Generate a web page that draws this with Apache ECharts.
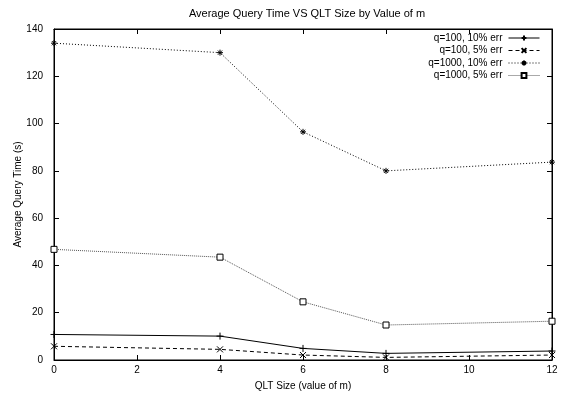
<!DOCTYPE html>
<html><head><meta charset="utf-8">
<script src="https://cdn.jsdelivr.net/npm/echarts@6/dist/echarts.min.js"></script>
<style>html,body{margin:0;padding:0;background:#fff}#c{width:568px;height:394px}</style>
</head><body><div id="c"></div>
<script>
var mValues = [0, 4, 6, 8, 12];
var q100_10 = [10.8, 10.1, 4.9, 2.8, 3.8];
var q100_5 = [5.8, 4.5, 2.1, 1.1, 2.1];
var q1000_10 = [134, 130, 96.5, 80, 83.7];
var q1000_5 = [46.8, 43.5, 24.6, 14.8, 16.4];
var seriesNames = ['q=100, 10% err', 'q=100, 5% err', 'q=1000, 10% err', 'q=1000, 5% err'];
var xTicks = [0, 2, 4, 6, 8, 10, 12];
var yTicks = [0, 20, 40, 60, 80, 100, 120, 140];

function pairs(ys){ return mValues.map(function(x,i){ return [x, ys[i]]; }); }
var font = 'Liberation Sans, Arial, sans-serif';
var chart = echarts.init(document.getElementById('c'), null, {renderer:'canvas'});
var tickStyle = {show:true, inside:true, length:5, lineStyle:{color:'#000', width:1}};
var axLine = {show:true, onZero:false, lineStyle:{color:'#000', width:1}};
var symPlus = 'path://M0,5L10,5M5,0L5,10';
var symCross = 'path://M0,0L10,10M10,0L0,10';
var symStar = 'path://M0,5L10,5M5,0L5,10M1.5,1.5L8.5,8.5M8.5,1.5L1.5,8.5';
function mk(name, ys, sym, size, lineType, lineColor, fill, axisIdx){
  return {
    name:name, type:'line', data:pairs(ys), symbol:sym, symbolSize:size,
    xAxisIndex:axisIdx, yAxisIndex:axisIdx,
    showAllSymbol:true, animation:false,
    lineStyle:{color:lineColor, width:1, type:lineType},
    itemStyle:{color:fill, borderColor:'#000', borderWidth:1}
  };
}
chart.setOption({
  animation:false,
  backgroundColor:'#fff',
  title:{text:'Average Query Time VS QLT Size by Value of m', left:302, textAlign:'center', top:3,
    textStyle:{fontFamily:font, fontSize:11, fontWeight:'normal', color:'#000'}},
  legend:{orient:'vertical', right:28, top:33, padding:0, align:'right', itemWidth:31, itemHeight:6, itemGap:2.5,
    data:seriesNames, lineStyle:{width:1},
    textStyle:{fontFamily:font, fontSize:10, lineHeight:9, color:'#000', padding:[0,1,0,0]}},
  grid:{left:54, right:16, top:29, bottom:34, outerBoundsMode:'none', containLabel:false,
    show:true, borderColor:'#000', borderWidth:1, backgroundColor:'transparent'},
  xAxis:[{type:'value', min:0, max:12, interval:2, position:'bottom',
    name:'QLT Size (value of m)', nameLocation:'middle', nameGap:21, nameMoveOverlap:false,
    nameTextStyle:{fontFamily:font, fontSize:10, color:'#000'},
    axisLine:axLine, axisTick:tickStyle, splitLine:{show:false},
    axisLabel:{fontFamily:font, fontSize:10, color:'#000', margin:5,
      formatter:function(v){ return xTicks.indexOf(v)>=0 ? String(v) : ''; }}},
   {type:'value', min:0, max:12, interval:2, position:'top', show:true,
    axisLine:axLine, axisTick:tickStyle, splitLine:{show:false}, axisLabel:{show:false}}],
  yAxis:[{type:'value', min:0, max:140, interval:20, position:'left',
    name:'Average Query Time (s)', nameLocation:'middle', nameGap:31, nameRotate:90, nameMoveOverlap:false,
    nameTextStyle:{fontFamily:font, fontSize:10, color:'#000'},
    axisLine:axLine, axisTick:tickStyle, splitLine:{show:false},
    axisLabel:{fontFamily:font, fontSize:10, color:'#000', margin:11,
      formatter:function(v){ return yTicks.indexOf(v)>=0 ? String(v) : ''; }}},
   {type:'value', min:0, max:140, interval:20, position:'right', show:true,
    axisLine:axLine, axisTick:tickStyle, splitLine:{show:false}, axisLabel:{show:false}}],
  series:[
    mk(seriesNames[0], q100_10, symPlus, 7, 'solid', '#000', '#000', 0),
    mk(seriesNames[1], q100_5, symCross, 6, [4,3], '#000', '#000', 0),
    mk(seriesNames[2], q1000_10, symStar, 6, [1,2], '#000', '#000', 0),
    mk(seriesNames[3], q1000_5, 'rect', 6, [1,1], '#555', '#fff', 1)
  ]
});
</script></body></html>
